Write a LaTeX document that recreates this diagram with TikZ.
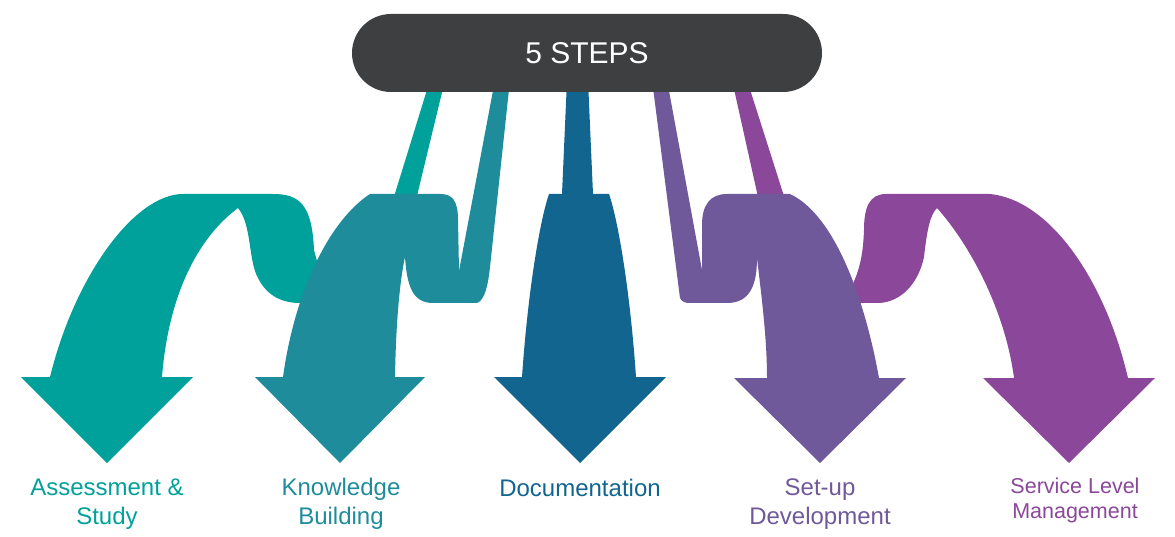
\documentclass[tikz,border=0pt]{standalone}
\usepackage{fontspec}
\setmainfont{Liberation Sans}
\usetikzlibrary{positioning}
\definecolor{stepgrey}{HTML}{3E3F41}
\definecolor{assess}{HTML}{00A19A}
\definecolor{knowl}{HTML}{1E8C9B}
\definecolor{docu}{HTML}{12658F}
\definecolor{setup}{HTML}{70599B}
\definecolor{serv}{HTML}{8B4799}
\tikzset{
    pill/.style ={fill=stepgrey, text=white, rounded corners=39pt, minimum width=470pt, minimum height=78pt, font=\fontsize{30}{36}\selectfont},
    lbl/.style = {align=center, inner sep=0pt, font=\fontsize{24}{29}\selectfont},
    small lbl/.style = {lbl, font=\fontsize{21.5}{25}\selectfont}
}
\begin{document}
\begin{tikzpicture}[x=1pt,y=-1pt]
  \useasboundingbox (0,0) rectangle (1175,537);

  % Assessment & Study
  \fill[assess] (21,377) -- (107,463) -- (193,377) -- (162,377)
    .. controls (168,300) and (195,240) .. (238,208)
    .. controls (252,225) and (248,260) .. (258,278)
    .. controls (268,298) and (285,303) .. (300,303)
    -- (350,303) -- (416,200) -- (445,80) -- (430,80) -- (393,200) -- (320,272) -- (314,250)
    .. controls (312,205) and (300,194) .. (273,194) -- (183,194)
    .. controls (135,194) and (75,275) .. (50,377) -- cycle;

  % Service Level Management
  \fill[serv] (983,378) -- (1069,463) -- (1155,378) -- (1128,378)
    .. controls (1105,280) and (1050,200) .. (990,194) -- (886,194)
    .. controls (869,194) and (864,208) .. (864,230)
    .. controls (863,255) and (860,270) .. (850,290)
    -- (790,215) -- (747,80) -- (732,80) -- (762,215) -- (835,303) -- (879,303)
    .. controls (900,302) and (918,285) .. (924,257)
    .. controls (927,230) and (930,215) .. (937,208)
    .. controls (970,245) and (1005,310) .. (1014,378) -- cycle;

  % Knowledge Building
  \fill[knowl] (255,377) -- (340,463) -- (425,377) -- (395,377)
    .. controls (396,320) and (400,280) .. (405,257)
    .. controls (407,285) and (412,303) .. (433,303) -- (477,303)
    .. controls (485,300) and (488,285) .. (490,267) -- (510,80) -- (495,80) -- (459,271) -- (458,220)
    .. controls (458,200) and (452,194) .. (440,194) -- (370,194)
    .. controls (330,220) and (295,290) .. (283,377) -- cycle;

  % Documentation
  \fill[docu] (494,377) -- (580,463) -- (666,377) -- (636,377)
    .. controls (630,290) and (618,220) .. (609,194) -- (593,194) -- (588,80) -- (567,80) -- (562,194) -- (549,194)
    .. controls (540,220) and (528,290) .. (522,377) -- cycle;

  % Set-up Development
  \fill[setup] (734,378) -- (820,463) -- (906,378) -- (879,378)
    .. controls (865,300) and (835,215) .. (790,194) -- (727,194)
    .. controls (710,194) and (702,205) .. (702,225) -- (702,270) -- (667,80) -- (652,80) -- (680,298)
    .. controls (682,302) and (685,303) .. (690,303) -- (727,303)
    .. controls (750,303) and (757,285) .. (757,258)
    .. controls (762,300) and (767,340) .. (767,378) -- cycle;

  \node[pill] (steps) at (587,53) {5 STEPS};

  \node[lbl, text=assess] (l1) at (107,504) {Assessment \&\\Study};
  \node[lbl, text=knowl] (l2) at (341,504) {Knowledge\\Building};
  \node[lbl, text=docu] (l3) at (580,488) {Documentation};
  \node[lbl, text=setup] (l4) at (820,504) {Set-up\\Development};
  \node[small lbl, text=serv] (l5) at (1075,500) {Service Level\\Management};
\end{tikzpicture}
\end{document}
